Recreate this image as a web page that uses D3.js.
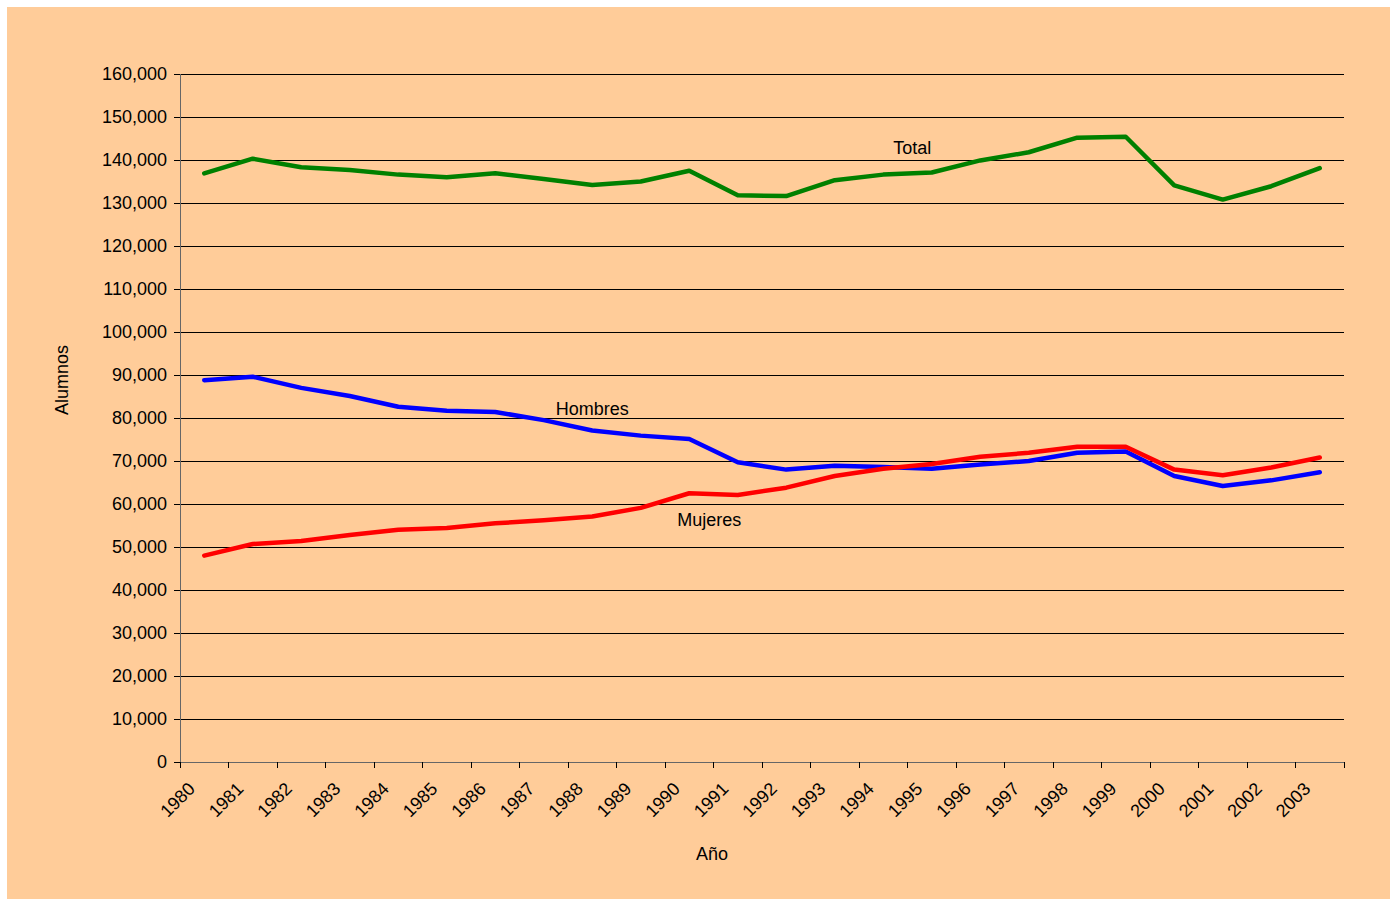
<!DOCTYPE html>
<html>
<head>
<meta charset="utf-8">
<title>Alumnos</title>
<script src="https://d3js.org/d3.v7.min.js"></script>
<style>
body{margin:0;background:#ffffff;}
text{font-family:"Liberation Sans",Arial,sans-serif;fill:#000;}
</style>
</head>
<body>
<svg width="1390" height="901" id="mainsvg"></svg>
<script>
// datos
const years=[1980,1981,1982,1983,1984,1985,1986,1987,1988,1989,1990,1991,1992,1993,1994,1995,1996,1997,1998,1999,2000,2001,2002,2003];
const hombres=[88800,89600,87000,85100,82600,81700,81400,79500,77100,75900,75100,69700,68000,68900,68600,68200,69200,70000,71900,72200,66500,64200,65500,67400];
const mujeres=[48000,50700,51400,52800,54000,54400,55500,56200,57100,59100,62500,62100,63800,66500,68200,69300,71000,71900,73300,73300,68000,66700,68500,70800];
const total=[136900,140300,138300,137700,136600,136000,136900,135600,134200,135000,137500,131800,131600,135300,136600,137100,139900,141800,145200,145400,134100,130800,133900,138100];
const yTicks=d3.range(0,160001,10000);

const svg=d3.select('svg');
const margin={top:74,left:180,right:46,bottom:139};
const width=+svg.attr('width');
const height=+svg.attr('height');
const innerWidth=width-margin.left-margin.right;
const innerHeight=height-margin.top-margin.bottom;

svg.append('rect').attr('x',7).attr('y',7).attr('width',width-7).attr('height',892).attr('fill','#FFCC99');

const g=svg.append('g').attr('transform',`translate(${margin.left},${margin.top})`);

const x=d3.scaleBand().domain(years).range([0,innerWidth]);
const y=d3.scaleLinear().domain([0,160000]).range([innerHeight,0]);
const cx=d=>x(d)+x.bandwidth()/2;

// lineas de cuadricula
g.selectAll('.grid').data(yTicks.slice(1)).enter().append('line')
 .attr('x1',0).attr('x2',innerWidth)
 .attr('y1',d=>y(d)).attr('y2',d=>y(d))
 .attr('stroke','#000').attr('stroke-width',1).attr('shape-rendering','crispEdges');

// eje y
const yaxis=d3.axisLeft(y).tickValues(yTicks).tickSize(6).tickPadding(7).tickFormat(d3.format(','));
const ya=g.append('g').call(yaxis);
ya.select('.domain').attr('stroke','#666').attr('shape-rendering','crispEdges');
ya.selectAll('.tick line').attr('stroke','#000').attr('shape-rendering','crispEdges');
ya.selectAll('text').style('font-size','18px');

// eje x (marcas entre categorias)
const xa=g.append('g').attr('transform',`translate(0,${innerHeight})`);
xa.append('line').attr('x1',0).attr('x2',innerWidth).attr('y1',0).attr('y2',0)
 .attr('stroke','#666').attr('shape-rendering','crispEdges');
xa.selectAll('.xt').data(years.concat(['end'])).enter().append('line')
 .attr('x1',d=>d==='end'?innerWidth:x(d)).attr('x2',d=>d==='end'?innerWidth:x(d))
 .attr('y1',0).attr('y2',6).attr('stroke','#000').attr('shape-rendering','crispEdges');
xa.selectAll('.xl').data(years).enter().append('text')
 .attr('text-anchor','end')
 .attr('transform',d=>`translate(${x(d)+16},${28}) rotate(-45)`)
 .style('font-size','18px')
 .text(d=>d);

// series
const line=vals=>d3.line().x((d,i)=>cx(years[i])).y(d=>y(d))(vals);
const series=[
  {name:'Hombres',values:hombres,color:'#0000FF'},
  {name:'Mujeres',values:mujeres,color:'#FF0000'},
  {name:'Total',values:total,color:'#008000'}
];
g.selectAll('.serie').data(series).enter().append('path')
 .attr('d',d=>line(d.values))
 .attr('fill','none').attr('stroke',d=>d.color).attr('stroke-width',4.5)
 .attr('stroke-linejoin','round').attr('stroke-linecap','round');

// etiquetas de series
const labels=[
  {text:'Total',year:1994,val:141400,dx:29},
  {text:'Hombres',year:1988,val:80700,dx:0},
  {text:'Mujeres',year:1990,val:54900,dx:20}
];
g.selectAll('.lab').data(labels).enter().append('text')
 .attr('x',d=>cx(d.year)+d.dx).attr('y',d=>y(d.val))
 .attr('text-anchor','middle').style('font-size','18px')
 .text(d=>d.text);

// titulos de ejes
svg.append('text').attr('x',712).attr('y',860)
 .attr('text-anchor','middle').style('font-size','18px').text('Año');
svg.append('text').attr('transform','translate(68,380) rotate(-90)')
 .attr('text-anchor','middle').style('font-size','18px').text('Alumnos');
</script>
</body>
</html>
